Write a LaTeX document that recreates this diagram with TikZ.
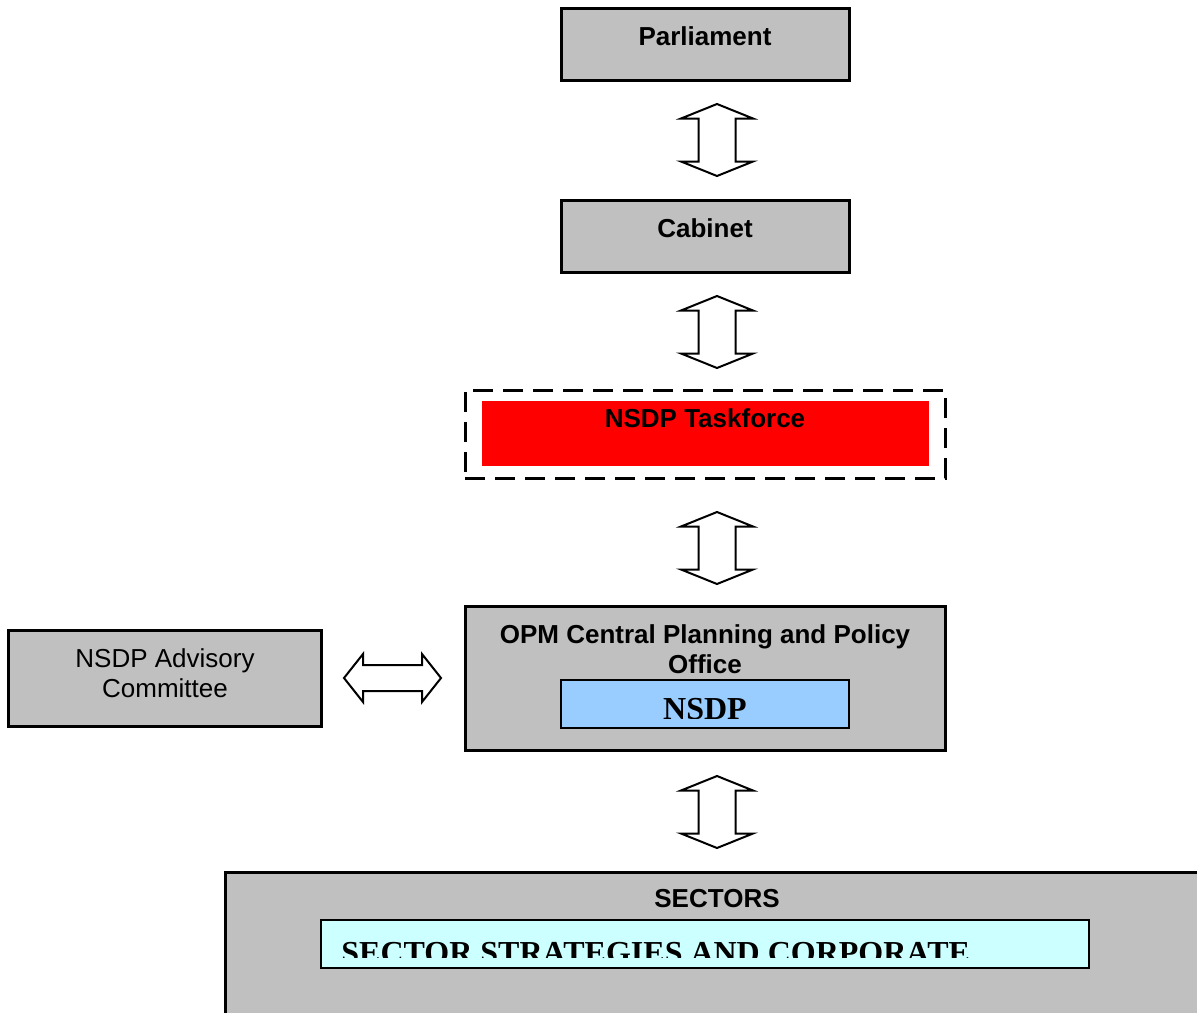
\documentclass[tikz,border=0pt]{standalone}
\usepackage{fontspec}
\setmainfont{Liberation Sans}
\newfontfamily\timesfont{Liberation Serif}
\definecolor{boxgray}{HTML}{C0C0C0}
\definecolor{nsdpblue}{HTML}{99CCFF}
\definecolor{sectcyan}{HTML}{CCFFFF}
\tikzset{
  graybox/.style={draw, line width=1.5pt, fill=boxgray, inner sep=0pt},
  innerbox/.style={draw, line width=1pt, inner sep=0pt},
  boldtext/.style={anchor=base, inner sep=0pt, font=\bfseries\fontsize{13}{15}\selectfont},
  plaintext/.style={anchor=base, inner sep=0pt, font=\fontsize{13}{15}\selectfont},
  serifcaps/.style={inner sep=0pt, font=\timesfont\bfseries\fontsize{16}{18}\selectfont},
  vdbl/.pic={\draw[line width=1pt, fill=white] (0,-36) -- (36,-21.5) -- (18.5,-21.5) -- (18.5,21.5) -- (36,21.5) -- (0,36) -- (-36,21.5) -- (-18.5,21.5) -- (-18.5,-21.5) -- (-36,-21.5) -- cycle;},
  hdbl/.pic={\draw[line width=1pt, fill=white] (-48.5,0) -- (-29.5,-24) -- (-29.5,-13) -- (29.5,-13) -- (29.5,-24) -- (48.5,0) -- (29.5,24) -- (29.5,13) -- (-29.5,13) -- (-29.5,24) -- cycle;},
}
\begin{document}
\begin{tikzpicture}[x=0.5pt, y=-0.5pt]
\useasboundingbox (0,0) rectangle (1197,1012);
\clip (0,0) rectangle (1197,1012);
%%%% top chain
\node[graybox, minimum width=144pt, minimum height=36pt] (parl) at (705,44) {};
\node[boldtext] (parltxt) at (705,45) {Parliament};
\node[graybox, minimum width=144pt, minimum height=36pt] (cab) at (705,236) {};
\node[boldtext] (cabtxt) at (705,237) {Cabinet};
\node[draw, line width=1.5pt, dash pattern=on 10pt off 5pt, minimum width=240pt, minimum height=44pt, inner sep=0pt] (task) at (705,434) {};
\node[fill=red, minimum width=223.5pt, minimum height=32.5pt, inner sep=0pt] (taskfill) at (705.5,433.5) {};
\node[boldtext] (tasktxt) at (705,427) {NSDP Taskforce};
%%%% planning office
\node[graybox, minimum width=240pt, minimum height=72pt] (opm) at (705,678) {};
\node[boldtext] (opmtxt1) at (705,643) {OPM Central Planning and Policy};
\node[boldtext] (opmtxt2) at (705,673) {Office};
\node[innerbox, fill=nsdpblue, minimum width=144pt, minimum height=24pt] (nsdp) at (705,704) {};
\begin{scope}
\clip (561,680) rectangle (849,718);
\node[serifcaps, anchor=base] (nsdptxt) at (705,719) {NSDP};
\end{scope}
%%%% advisory committee
\node[graybox, minimum width=156.5pt, minimum height=48pt] (adv) at (164.5,678) {};
\node[plaintext] (advtxt1) at (165,667) {NSDP Advisory};
\node[plaintext] (advtxt2) at (165,697) {Committee};
%%%% sectors
\draw[line width=1.5pt, fill=boxgray] (225,872) rectangle (1230,1040);
\node[boldtext] (secttxt) at (717,907) {SECTORS};
\node[innerbox, fill=sectcyan, minimum width=384pt, minimum height=24pt] (strat) at (705,944) {};
\begin{scope}
\clip (321,920) rectangle (1089,957);
\node[serifcaps, anchor=base west] (strattxt) at (341,963) {SECTOR STRATEGIES AND CORPORATE};
\end{scope}
%%%% arrows
\pic at (717,140) {vdbl};
\pic at (717,332) {vdbl};
\pic at (717,548) {vdbl};
\pic at (717,812) {vdbl};
\pic at (392.5,678) {hdbl};
\end{tikzpicture}
\end{document}
